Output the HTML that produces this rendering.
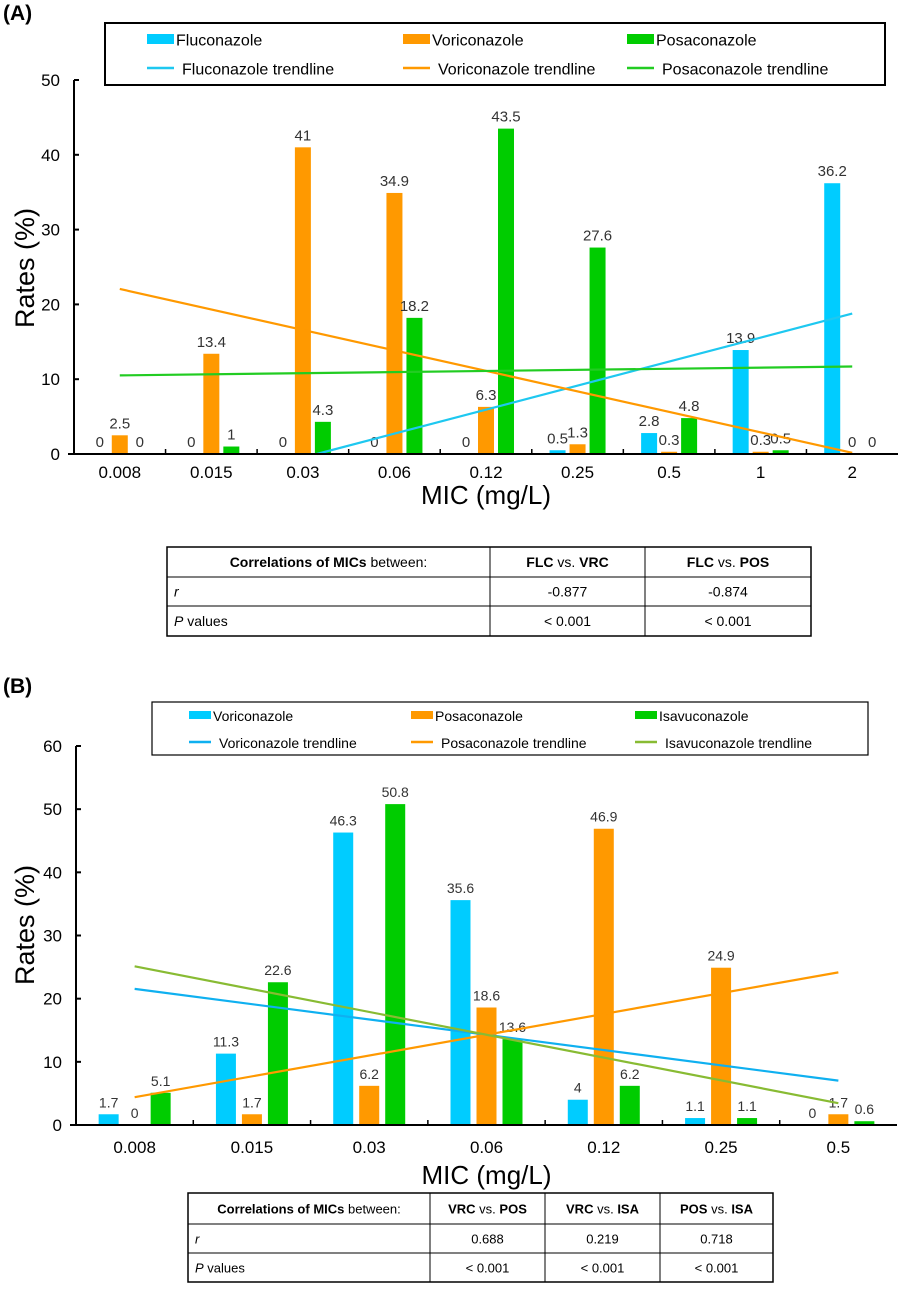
<!DOCTYPE html>
<html><head><meta charset="utf-8"><style>
body{margin:0;background:#fff;}
svg{display:block;font-family:"Liberation Sans",Arial,sans-serif;}
</style></head><body>
<svg id="root" width="899" height="1295" viewBox="0 0 899 1295">
<g id="chartA"></g>
<g id="chartB"></g>
</svg>
<script>
// ---- Chart A data ----
const catsA = ["0.008","0.015","0.03","0.06","0.12","0.25","0.5","1","2"];
const fluA = [0,0,0,0,0,0.5,2.8,13.9,36.2];
const voriA = [2.5,13.4,41,34.9,6.3,1.3,0.3,0.3,0];
const posaA = [0,1,4.3,18.2,43.5,27.6,4.8,0.5,0];
const ticksA = [0,10,20,30,40,50];
const namesA = ["Fluconazole","Voriconazole","Posaconazole"];
// ---- Chart B data ----
const catsB = ["0.008","0.015","0.03","0.06","0.12","0.25","0.5"];
const voriB = [1.7,11.3,46.3,35.6,4,1.1,0];
const posaB = [0,1.7,6.2,18.6,46.9,24.9,1.7];
const isaB = [5.1,22.6,50.8,13.6,6.2,1.1,0.6];
const ticksB = [0,10,20,30,40,50,60];
const namesB = ["Voriconazole","Posaconazole","Isavuconazole"];

const NS="http://www.w3.org/2000/svg";
function mk(parent,tag,attrs,text){const e=document.createElementNS(NS,tag);for(const k in attrs)e.setAttribute(k,attrs[k]);if(text!==undefined)e.textContent=text;parent.appendChild(e);return e;}
function fit(v){const n=v.length,mx=(n-1)/2,my=v.reduce((a,b)=>a+b,0)/n;let sxy=0,sxx=0;v.forEach((y,i)=>{sxy+=(i-mx)*(y-my);sxx+=(i-mx)*(i-mx);});const s=sxy/sxx;return [my-s*mx,s];}

function drawChart(g,cfg){
  const {cats,series,names,colors,trendColors,ticks,ymax,x0,x1,y0,yTop,barW,gap,label,legend,lblSize}=cfg;
  const cw=(x1-x0)/cats.length;
  const X=i=>x0+cw*(i+0.5);
  const Y=v=>y0-(v/ymax)*(y0-yTop);
  const pl=mk(g,"text",{x:3,y:label.y,"font-size":21,"font-weight":"bold",fill:"#000"},label.t);
  
  
  const lg=mk(g,"g",{});
  
  
  mk(lg,"rect",{x:legend.x,y:legend.y,width:legend.w,height:legend.h,fill:"#fff",stroke:"#000","stroke-width":legend.sw});
  names.forEach((n,k)=>{
    const lx=legend.cols[k];
    const e1=mk(lg,"g",{});
    
    
    mk(e1,"rect",{x:lx,y:legend.r1-legend.swh/2,width:legend.sww,height:legend.swh,fill:colors[k]});
    mk(e1,"text",{x:lx+legend.sww+2,y:legend.r1+legend.fs*0.35+1,"font-size":legend.fs,fill:"#000"},n);
    const e2=mk(lg,"g",{});
    
    
    mk(e2,"line",{x1:lx,x2:lx+legend.sww,y1:legend.r2,y2:legend.r2,stroke:trendColors[k],"stroke-width":2.5});
    mk(e2,"text",{x:lx+legend.sww+8,y:legend.r2+legend.fs*0.35+1,"font-size":legend.fs,fill:"#000"},n+" trendline");
  });
  series.forEach((s,k)=>{
    s.forEach((v,i)=>{
      const cx=X(i)+(k-1)*gap;
      const b=mk(g,"rect",{x:cx-barW/2,y:Y(v),width:barW,height:y0-Y(v),fill:colors[k]});
      
      
      const t=mk(g,"text",{x:cx,y:Y(v)-7,"font-size":lblSize,fill:"#333","text-anchor":"middle"},String(v));
      
      
    });
  });
  series.forEach((s,k)=>{
    const [a,b]=fit(s);
    let xb=s.length-1;
    let sx=0,sy=a,ex=xb,ey=a+b*xb;
    if(sy<0){sx=-a/b;sy=0;}
    if(ey<0){ex=-a/b;ey=0;}
    const l=mk(g,"line",{x1:X(sx),y1:Y(sy),x2:X(ex),y2:Y(ey),stroke:trendColors[k],"stroke-width":2.2});
    
    
  });
  const ax=mk(g,"g",{});
  
  
  mk(ax,"line",{x1:x0,y1:yTop,x2:x0,y2:y0,stroke:"#000","stroke-width":2});
  ticks.forEach(t=>{
    mk(ax,"line",{x1:x0,x2:x0+5,y1:Y(t),y2:Y(t),stroke:"#000","stroke-width":2});
    mk(ax,"text",{x:x0-14,y:Y(t)+6,"font-size":17,"text-anchor":"end",fill:"#000"},String(t));
  });
  const xa=mk(g,"g",{});
  
  
  mk(xa,"line",{x1:x0-6,y1:y0,x2:x1,y2:y0,stroke:"#000","stroke-width":2});
  cats.forEach((c,i)=>{
    if(i>0)mk(xa,"line",{x1:x0+cw*i,x2:x0+cw*i,y1:y0,y2:y0-5,stroke:"#000","stroke-width":1.5});
    mk(xa,"text",{x:X(i),y:y0+cfg.tickLblDy,"font-size":17,"text-anchor":"middle",fill:"#000"},c);
  });
  const yt=mk(g,"text",{x:0,y:0,"font-size":27,"text-anchor":"middle",fill:"#000",transform:`translate(${cfg.ytX},${cfg.ytY}) rotate(-90)`},"Rates (%)");
  
  
  const xt=mk(g,"text",{x:(x0+x1)/2,y:cfg.xtY,"font-size":26,"text-anchor":"middle",fill:"#000"},"MIC (mg/L)");
  
  
}

function drawTable(g,cfg){
  const {cols,rows,cells}=cfg;
  const t=mk(g,"g",{});
  
  
  mk(t,"rect",{x:cols[0],y:rows[0],width:cols[cols.length-1]-cols[0],height:rows[rows.length-1]-rows[0],fill:"#fff",stroke:"#000","stroke-width":1.5});
  cols.slice(1,-1).forEach(c=>mk(t,"line",{x1:c,x2:c,y1:rows[0],y2:rows[rows.length-1],stroke:"#000","stroke-width":1}));
  rows.slice(1,-1).forEach(r=>mk(t,"line",{x1:cols[0],x2:cols[cols.length-1],y1:r,y2:r,stroke:"#000","stroke-width":1}));
  cells.forEach((row,ri)=>row.forEach((html,ci)=>{
    const y=(rows[ri]+rows[ri+1])/2+5;
    const left=(ci===0&&ri>0);
    const x=left?cols[0]+7:(cols[ci]+cols[ci+1])/2;
    const tx=mk(t,"text",{x:x,y:y,"font-size":cfg.fs,"text-anchor":left?"start":"middle",fill:"#000"});
    html.forEach(p=>{const s=mk(tx,"tspan",{});s.textContent=p[0];if(p[1]==="b")s.setAttribute("font-weight","bold");if(p[1]==="i")s.setAttribute("font-style","italic");});
  }));
}

const cBlue="#00ccff",cOr="#ff9900",cGr="#00cc00";
drawChart(document.getElementById("chartA"),{
  cats:catsA,series:[fluA,voriA,posaA],names:namesA,colors:[cBlue,cOr,cGr],trendColors:["#1ec8f0",cOr,"#22cc22"],
  ticks:ticksA,ymax:50,x0:74,x1:898,y0:454,yTop:80,barW:16,gap:20,lblSize:15,
  label:{t:"(A)",y:20},
  legend:{x:105,y:23,w:780,h:62,sw:2,cols:[147,403,627],r1:39,r2:68,sww:27,swh:10,fs:16},
  tickLblDy:24,ytX:34,ytY:268,xtY:504
});
drawChart(document.getElementById("chartB"),{
  cats:catsB,series:[voriB,posaB,isaB],names:namesB,colors:[cBlue,cOr,cGr],trendColors:["#0fb0f0",cOr,"#88bb33"],
  ticks:ticksB,ymax:60,x0:76,x1:897,y0:1125,yTop:746,barW:20,gap:26,lblSize:14,
  label:{t:"(B)",y:693},
  legend:{x:152,y:702,w:716,h:53,sw:1.2,cols:[189,411,635],r1:715,r2:742,sww:22,swh:8,fs:14},
  tickLblDy:28,ytX:34,ytY:925,xtY:1184
});
drawTable(document.getElementById("chartA"),{
  cols:[167,490,645,811],rows:[547,577,606,636],fs:14,
  cells:[
    [[["Correlations of MICs","b"],[" between:"]],[["FLC","b"],[" vs. "],["VRC","b"]],[["FLC","b"],[" vs. "],["POS","b"]]],
    [[["r","i"]],[["-0.877"]],[["-0.874"]]],
    [[["P","i"],[" values"]],[["< 0.001"]],[["< 0.001"]]]
  ]});
drawTable(document.getElementById("chartB"),{
  cols:[188,430,545,660,773],rows:[1193,1224,1253,1282],fs:13,
  cells:[
    [[["Correlations of MICs","b"],[" between:"]],[["VRC","b"],[" vs. "],["POS","b"]],[["VRC","b"],[" vs. "],["ISA","b"]],[["POS","b"],[" vs. "],["ISA","b"]]],
    [[["r","i"]],[["0.688"]],[["0.219"]],[["0.718"]]],
    [[["P","i"],[" values"]],[["< 0.001"]],[["< 0.001"]],[["< 0.001"]]]
  ]});
</script>
</body></html>
